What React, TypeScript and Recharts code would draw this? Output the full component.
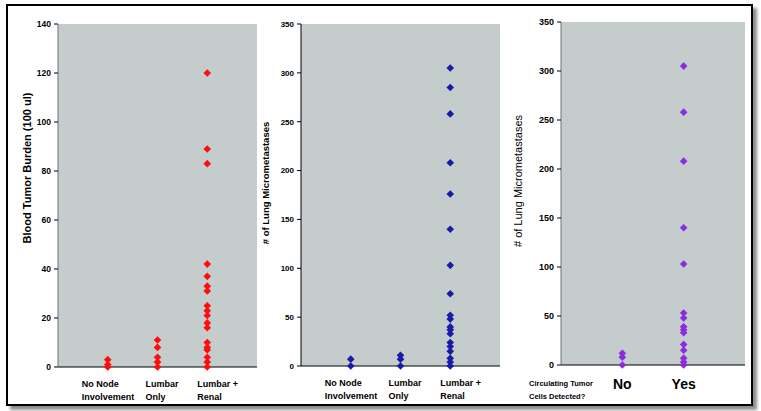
import React from 'react';
import { ScatterChart, Scatter, XAxis, YAxis, CartesianGrid } from 'recharts';

// categories
const nodeGroups = [['No Node', 'Involvement'], ['Lumbar', 'Only'], ['Lumbar +', 'Renal']];
const ctcGroups = ['No', 'Yes'];

// panel 1 - blood tumor burden
const bloodNoNode = [3, 1, 0];
const bloodLumbarOnly = [11, 8, 4, 2, 0];
const bloodLumbarRenal = [120, 89, 83, 42, 37, 33, 31, 25, 23, 21, 18, 16, 10, 8, 7, 4, 2, 0];

// panel 2 - lung micrometastases by node status
const lungNoNode = [7, 0];
const lungLumbarOnly = [11, 7, 0];
const lungLumbarRenal = [305, 285, 258, 208, 176, 140, 103, 74, 52, 48, 40, 37, 33, 24, 20, 15, 8, 4, 0];

// panel 3 - lung micrometastases by CTC detection
const lungCtcNo = [12, 8, 0];
const lungCtcYes = [305, 258, 208, 140, 103, 53, 48, 39, 36, 33, 21, 15, 7, 3, 0];

const bloodTicks = [0, 20, 40, 60, 80, 100, 120, 140];
const lungTicks = [0, 50, 100, 150, 200, 250, 300, 350];

const toPoints = (groups: number[][]) =>
  groups.flatMap((vals, i) => vals.map((v) => ({ x: i + 1, y: v })));

const bloodData = toPoints([bloodNoNode, bloodLumbarOnly, bloodLumbarRenal]);
const lungData = toPoints([lungNoNode, lungLumbarOnly, lungLumbarRenal]);
const ctcData = toPoints([lungCtcNo, lungCtcYes]);

const FONT = '"Liberation Sans", Arial, sans-serif';
const PLOT_BG = '#c4cccc';

const diamond = (color: string) => (props: any) => {
  const { cx, cy } = props;
  const r = 3.8;
  return (
    <polygon
      points={`${cx},${cy - r} ${cx + r},${cy} ${cx},${cy + r} ${cx - r},${cy}`}
      fill={color}
    />
  );
};

// label nudges so the two lines sit like the original text boxes
const nodeLabelDx = [-26, -12, -10];

const NodeTick = (props: any) => {
  const { x, y, payload, index } = props;
  const lines = nodeGroups[payload.value - 1] || [];
  const dx = nodeLabelDx[index] ?? 0;
  return (
    <text x={x + dx} y={y} fontFamily={FONT} fontSize={9} fontWeight="bold" fill="#000" textAnchor="start">
      {lines.map((l, i) => (
        <tspan key={i} x={x + dx} y={y + 20 + i * 13}>{l}</tspan>
      ))}
    </text>
  );
};

const CtcTick = (props: any) => {
  const { x, y, payload } = props;
  const label = ctcGroups[payload.value - 1] || '';
  return (
    <text x={x} y={y + 24} fontFamily={FONT} fontSize={14} fontWeight="bold" fill="#000" textAnchor="middle">
      {label}
    </text>
  );
};

export default function App() {
  return (
    <div style={{ position: 'absolute', left: 0, top: 0, width: 761, height: 411, background: '#fff', overflow: 'hidden' }}>
      <div
        style={{
          position: 'absolute',
          left: 6,
          top: 4,
          width: 743,
          height: 398,
          border: '2px solid #000',
          boxShadow: '4px 4px 3px rgba(0,0,0,0.45)',
          background: '#fff',
        }}
      />

      {/* panel 1 */}
      <div style={{ position: 'absolute', left: 8, top: 0 }}>
        <ScatterChart width={260} height={411} margin={{ top: 24, right: 11, bottom: 14, left: 0 }}>
          <CartesianGrid fill={PLOT_BG} horizontal={false} vertical={false} stroke="none" />
          <XAxis
            type="number"
            dataKey="x"
            height={30}
            domain={[0, 4]}
            ticks={[1, 2, 3]}
            interval={0}
            axisLine={{ stroke: '#000', strokeWidth: 1 }}
            tickLine={false}
            tickSize={0}
            tickMargin={0}
            tick={NodeTick}
          />
          <YAxis
            type="number"
            dataKey="y"
            width={50}
            domain={[0, 140]}
            ticks={bloodTicks}
            interval={0}
            axisLine={{ stroke: '#6e7474', strokeWidth: 1 }}
            tickLine={{ stroke: '#000' }}
            tickSize={4}
            tickMargin={3}
            tick={{ fontFamily: FONT, fontSize: 8.5, fontWeight: 'bold', fill: '#000' }}
          />
          <Scatter data={bloodData} fill="#ff0000" shape={diamond('#ff0d0d')} isAnimationActive={false} />
        </ScatterChart>
      </div>

      {/* panel 2 */}
      <div style={{ position: 'absolute', left: 268, top: 0 }}>
        <ScatterChart width={243} height={411} margin={{ top: 24, right: 11, bottom: 15, left: 0 }}>
          <CartesianGrid fill={PLOT_BG} horizontal={false} vertical={false} stroke="none" />
          <XAxis
            type="number"
            dataKey="x"
            height={30}
            domain={[0, 4]}
            ticks={[1, 2, 3]}
            interval={0}
            axisLine={{ stroke: '#000', strokeWidth: 1 }}
            tickLine={false}
            tickSize={0}
            tickMargin={0}
            tick={NodeTick}
          />
          <YAxis
            type="number"
            dataKey="y"
            width={33}
            domain={[0, 350]}
            ticks={lungTicks}
            interval={0}
            axisLine={{ stroke: '#000', strokeWidth: 1 }}
            tickLine={{ stroke: '#000' }}
            tickSize={4}
            tickMargin={3}
            tick={{ fontFamily: FONT, fontSize: 8, fontWeight: 'bold', fill: '#000' }}
          />
          <Scatter data={lungData} fill="#1a1aa8" shape={diamond('#1a1aa8')} isAnimationActive={false} />
        </ScatterChart>
      </div>

      {/* panel 3 */}
      <div style={{ position: 'absolute', left: 511, top: 0 }}>
        <ScatterChart width={245} height={411} margin={{ top: 22, right: 11, bottom: 16, left: 0 }}>
          <CartesianGrid fill={PLOT_BG} horizontal={false} vertical={false} stroke="none" />
          <XAxis
            type="number"
            dataKey="x"
            height={30}
            domain={[0, 3]}
            ticks={[1, 2]}
            interval={0}
            axisLine={{ stroke: '#000', strokeWidth: 1 }}
            tickLine={false}
            tickSize={0}
            tickMargin={0}
            tick={CtcTick}
          />
          <YAxis
            type="number"
            dataKey="y"
            width={50}
            domain={[0, 350]}
            ticks={lungTicks}
            interval={0}
            axisLine={{ stroke: '#6e7474', strokeWidth: 1 }}
            tickLine={{ stroke: '#000' }}
            tickSize={4}
            tickMargin={3}
            tick={{ fontFamily: FONT, fontSize: 9, fontWeight: 'bold', fill: '#000' }}
          />
          <Scatter data={ctcData} fill="#8c2be0" shape={diamond('#8c2be0')} isAnimationActive={false} />
        </ScatterChart>
      </div>

      {/* axis titles */}
      <svg width={761} height={411} style={{ position: 'absolute', left: 0, top: 0, pointerEvents: 'none' }}>
        <text
          transform="translate(31,168) rotate(-90)"
          textAnchor="middle"
          fontFamily={FONT}
          fontSize={11}
          fontWeight="bold"
          fill="#000"
        >
          Blood Tumor Burden (100 ul)
        </text>
        <text
          transform="translate(269,183) rotate(-90)"
          textAnchor="middle"
          fontFamily={FONT}
          fontSize={9.5}
          fontWeight="bold"
          fill="#000"
        >
          # of  Lung Micrometastases
        </text>
        <text
          transform="translate(522,181) rotate(-90)"
          textAnchor="middle"
          fontFamily={FONT}
          fontSize={11}
          fill="#000"
        >
          # of Lung Micrometastases
        </text>
        <text fontFamily={FONT} fontSize={7.5} fontWeight="bold" fill="#000">
          <tspan x={529} y={386}>Circulating Tumor</tspan>
          <tspan x={529} y={399}>Cells Detected?</tspan>
        </text>
      </svg>
    </div>
  );
}
